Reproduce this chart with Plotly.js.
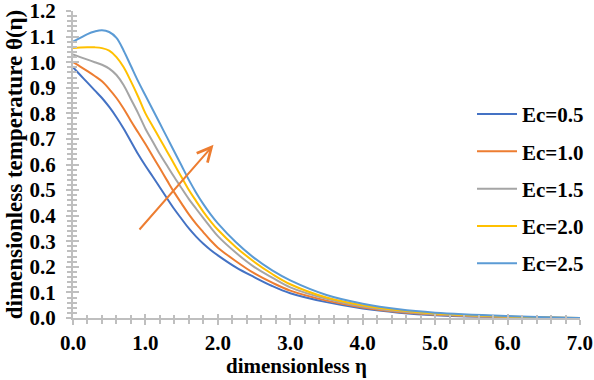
<!DOCTYPE html>
<html>
<head>
<meta charset="utf-8">
<script src="https://cdn.plot.ly/plotly-3.0.1.min.js"></script>
<style>html,body{margin:0;padding:0;background:#fff;}#chart{width:594px;height:380px;}</style>
</head>
<body>
<div id="chart"></div>
<script>
const eta = [0,0.1,0.2,0.3,0.4,0.5,0.6,0.7,0.8,0.9,1.0,1.1,1.2,1.3,1.4,1.5,1.6,1.7,1.8,1.9,2.0,2.25,2.5,2.75,3.0,3.5,4.0,4.5,5.0,6.0,7.0];
const ec05 = [0.98,0.95,0.92,0.89,0.86,0.825,0.785,0.74,0.69,0.64,0.595,0.553,0.51,0.467,0.425,0.387,0.35,0.318,0.29,0.266,0.245,0.198,0.16,0.125,0.097,0.062,0.037,0.021,0.011,0.003,0];
const ec10 = [1.0,0.983,0.965,0.946,0.925,0.895,0.86,0.818,0.77,0.725,0.68,0.632,0.585,0.537,0.49,0.447,0.405,0.368,0.335,0.303,0.275,0.222,0.175,0.138,0.107,0.068,0.041,0.023,0.013,0.004,0];
const ec15 = [1.03,1.02,1.01,1.0,0.99,0.975,0.95,0.91,0.855,0.8,0.74,0.69,0.64,0.595,0.55,0.507,0.465,0.427,0.39,0.354,0.32,0.255,0.20,0.158,0.12,0.075,0.045,0.026,0.015,0.005,0];
const ec20 = [1.055,1.057,1.058,1.058,1.055,1.045,1.02,0.98,0.925,0.865,0.80,0.75,0.70,0.65,0.60,0.55,0.50,0.457,0.415,0.378,0.345,0.277,0.22,0.172,0.132,0.08,0.05,0.03,0.018,0.006,0];
const ec25 = [1.08,1.095,1.11,1.12,1.125,1.118,1.095,1.045,0.985,0.925,0.87,0.815,0.76,0.705,0.65,0.595,0.54,0.49,0.445,0.405,0.37,0.296,0.235,0.186,0.147,0.09,0.056,0.034,0.021,0.008,0];
const seriesNames = ["Ec=0.5","Ec=1.0","Ec=1.5","Ec=2.0","Ec=2.5"];
const seriesColors = ["#4472C4","#ED7D31","#A5A5A5","#FFC000","#5B9BD5"];
const seriesData = [ec05, ec10, ec15, ec20, ec25];
const arrowFrom = {x:0.90, y:0.34};
const arrowTo = {x:1.94, y:0.677};

const serif = '"Liberation Serif", "Times New Roman", serif';
const traces = seriesData.map((d,i)=>({
  x: eta, y: d, type:'scatter', mode:'lines', name: seriesNames[i],
  legendgroup: 'g'+i,
  line:{color: seriesColors[i], width:2, shape:'spline', smoothing:1}
}));

const axCommon = {
  showgrid:false, zeroline:false, showline:true, linecolor:'#BFBFBF', linewidth:2,
  ticks:'outside', ticklen:5, tickwidth:2, tickcolor:'#BFBFBF', ticklabeloverflow:'allow',
  tickfont:{family:serif, size:21, color:'#000', weight:'bold'}
};

const layout = {
  width:594, height:380,
  margin:{l:73, r:14, t:11, b:62, autoexpand:false},
  paper_bgcolor:'#fff', plot_bgcolor:'#fff',
  showlegend:true,
  legend:{x:0.787, y:0.73, xanchor:'left', yanchor:'top', tracegroupgap:7, itemwidth:40,
    bgcolor:'rgba(0,0,0,0)', font:{family:serif, size:21, color:'#000', weight:'bold'}},
  xaxis: Object.assign({}, axCommon, {range:[0,7.0001], tick0:0, dtick:1, tickformat:'.1f',
    minor:{ticks:'outside', dtick:0.2, ticklen:4, tickwidth:2, tickcolor:'#BFBFBF'}}),
  yaxis: Object.assign({}, axCommon, {range:[0,1.2001], tick0:0, dtick:0.1, tickformat:'.1f', ticklabelstandoff:6,
    minor:{ticks:'outside', dtick:0.02, ticklen:4, tickwidth:2, tickcolor:'#BFBFBF'},
    title:{text:'dimensionless temperature θ(η)', font:{family:serif, size:23, color:'#000', weight:'bold'}, standoff:0}}),
  xaxis2:{overlaying:'x', anchor:'y', side:'bottom', range:[0,7.0001], tick0:0, dtick:1, showline:false, showgrid:false, zeroline:false,
    showticklabels:false, ticks:'inside', ticklen:4, tickwidth:2, tickcolor:'#BFBFBF',
    minor:{ticks:'inside', dtick:0.2, ticklen:3, tickwidth:2, tickcolor:'#BFBFBF'}},
  yaxis2:{overlaying:'y', anchor:'x', side:'left', range:[0,1.2001], tick0:0, dtick:0.1, showline:false, showgrid:false, zeroline:false,
    showticklabels:false, ticks:'inside', ticklen:6, tickwidth:2, tickcolor:'#BFBFBF',
    minor:{ticks:'inside', dtick:0.02, ticklen:4, tickwidth:2, tickcolor:'#BFBFBF'}},
  annotations:[
    {x:arrowTo.x, y:arrowTo.y, ax:arrowFrom.x, ay:arrowFrom.y, xref:'x', yref:'y', axref:'x', ayref:'y',
     text:'', showarrow:true, arrowhead:5, arrowsize:1.4, arrowwidth:2, arrowcolor:'#ED7D31'},
    {text:'dimensionless η', xref:'paper', yref:'paper', x:0.44, y:-0.112, xanchor:'center', yanchor:'top',
     showarrow:false, font:{family:serif, size:21, color:'#000', weight:'bold'}}
  ]
};
const dummy = {x:[0], y:[0], xaxis:'x2', yaxis:'y2', mode:'markers', marker:{opacity:0}, showlegend:false, hoverinfo:'skip'};
Plotly.newPlot('chart', traces.concat([dummy]), layout, {displayModeBar:false, staticPlot:true});
</script>
</body>
</html>
